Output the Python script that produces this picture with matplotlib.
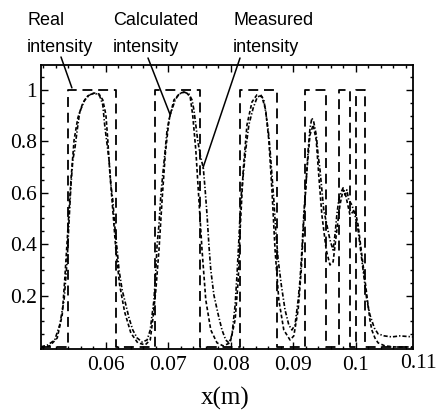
import numpy as np
import matplotlib
matplotlib.use("Agg")
import matplotlib.pyplot as plt
from matplotlib.ticker import MultipleLocator, FixedLocator

# ---- data ----
real_starts = [0.0539, 0.0679, 0.0815, 0.0919, 0.0973, 0.1001]
real_ends   = [0.0616, 0.0751, 0.0874, 0.0953, 0.0991, 0.1015]

calc_x = [0.0496, 0.0510, 0.0522, 0.0530, 0.0534, 0.0539, 0.0544, 0.0549, 0.0555, 0.0563,
          0.0571, 0.0581, 0.0589, 0.0595, 0.0600, 0.0603, 0.0606, 0.0611, 0.0616, 0.0622,
          0.0630, 0.0640, 0.0651, 0.0663, 0.0671, 0.0675, 0.0680, 0.0685, 0.0690, 0.0695,
          0.0701, 0.0709, 0.0719, 0.0728, 0.0735, 0.0739, 0.0744, 0.0749, 0.0754, 0.0760,
          0.0768, 0.0778, 0.0788, 0.0799, 0.0807, 0.0812, 0.0815, 0.0820, 0.0826, 0.0834,
          0.0842, 0.0850, 0.0856, 0.0861, 0.0866, 0.0871, 0.0877, 0.0885, 0.0895, 0.0901,
          0.0908, 0.0913, 0.0917, 0.0922, 0.0927, 0.0932, 0.0937, 0.0941, 0.0946, 0.0953,
          0.0959, 0.0964, 0.0970, 0.0975, 0.0980, 0.0983, 0.0991, 0.0999, 0.1004, 0.1010,
          0.1017, 0.1023, 0.1026, 0.1031, 0.1036, 0.1047, 0.1063, 0.1092]
calc_y = [0.000, 0.004, 0.035, 0.125, 0.261, 0.455, 0.650, 0.805, 0.891, 0.949,
          0.977, 0.988, 0.984, 0.961, 0.903, 0.805, 0.689, 0.533, 0.377, 0.241,
          0.136, 0.054, 0.016, 0.008, 0.027, 0.105, 0.222, 0.377, 0.572, 0.747,
          0.883, 0.961, 0.988, 0.992, 0.973, 0.903, 0.767, 0.572, 0.377, 0.183,
          0.066, 0.016, 0.004, 0.016, 0.105, 0.261, 0.455, 0.689, 0.864, 0.953,
          0.981, 0.973, 0.922, 0.805, 0.611, 0.377, 0.183, 0.066, 0.027, 0.043,
          0.144, 0.300, 0.494, 0.689, 0.825, 0.864, 0.805, 0.669, 0.514, 0.377,
          0.319, 0.331, 0.455, 0.553, 0.611, 0.603, 0.514, 0.533, 0.475, 0.358,
          0.222, 0.105, 0.066, 0.035, 0.016, 0.004, 0.000, 0.000]

meas_x = [0.0496, 0.0507, 0.0518, 0.0526, 0.0533, 0.0538, 0.0541, 0.0544, 0.0547, 0.0550,
          0.0554, 0.0558, 0.0566, 0.0574, 0.0582, 0.0590, 0.0595, 0.0598, 0.0602, 0.0605,
          0.0608, 0.0611, 0.0614, 0.0618, 0.0621, 0.0626, 0.0632, 0.0637, 0.0643, 0.0650,
          0.0658, 0.0666, 0.0671, 0.0674, 0.0677, 0.0680, 0.0682, 0.0685, 0.0688, 0.0691,
          0.0695, 0.0698, 0.0703, 0.0711, 0.0717, 0.0725, 0.0733, 0.0738, 0.0741, 0.0744,
          0.0747, 0.0751, 0.0756, 0.0759, 0.0762, 0.0765, 0.0768, 0.0773, 0.0780, 0.0786,
          0.0792, 0.0797, 0.0802, 0.0807, 0.0810, 0.0813, 0.0816, 0.0820, 0.0824, 0.0829,
          0.0836, 0.0842, 0.0848, 0.0853, 0.0856, 0.0860, 0.0863, 0.0866, 0.0869, 0.0872,
          0.0876, 0.0881, 0.0887, 0.0893, 0.0898, 0.0903, 0.0908, 0.0911, 0.0914, 0.0917,
          0.0921, 0.0924, 0.0927, 0.0930, 0.0933, 0.0937, 0.0940, 0.0943, 0.0946, 0.0949,
          0.0954, 0.0959, 0.0964, 0.0967, 0.0970, 0.0973, 0.0977, 0.0980, 0.0983, 0.0986,
          0.0989, 0.0994, 0.0999, 0.1004, 0.1009, 0.1014, 0.1018, 0.1023, 0.1030, 0.1036,
          0.1046, 0.1058, 0.1071, 0.1092]
meas_y = [0.000, 0.008, 0.027, 0.086, 0.183, 0.339, 0.494, 0.630, 0.728, 0.767,
          0.844, 0.914, 0.961, 0.981, 0.988, 0.977, 0.942, 0.864, 0.786, 0.728,
          0.630, 0.572, 0.475, 0.377, 0.300, 0.222, 0.163, 0.113, 0.066, 0.035,
          0.019, 0.027, 0.066, 0.125, 0.183, 0.300, 0.397, 0.475, 0.591, 0.669,
          0.767, 0.844, 0.903, 0.961, 0.984, 0.992, 0.984, 0.961, 0.922, 0.864,
          0.805, 0.747, 0.697, 0.611, 0.514, 0.397, 0.300, 0.202, 0.125, 0.066,
          0.027, 0.016, 0.047, 0.163, 0.280, 0.416, 0.572, 0.669, 0.767, 0.864,
          0.930, 0.969, 0.981, 0.961, 0.914, 0.844, 0.767, 0.669, 0.572, 0.455,
          0.339, 0.241, 0.144, 0.086, 0.066, 0.086, 0.183, 0.261, 0.377, 0.514,
          0.650, 0.767, 0.852, 0.891, 0.875, 0.825, 0.747, 0.689, 0.611, 0.533,
          0.475, 0.416, 0.377, 0.436, 0.514, 0.572, 0.603, 0.619, 0.591, 0.611,
          0.572, 0.553, 0.514, 0.455, 0.358, 0.261, 0.183, 0.125, 0.074, 0.051,
          0.043, 0.039, 0.043, 0.039]

x_ticks = [0.06, 0.07, 0.08, 0.09, 0.10]
x_ticklabels = ["0.06", "0.07", "0.08", "0.09", "0.1"]
extra_x_tick = 0.11
extra_x_label = "0.11"
y_ticks = [0.2, 0.4, 0.6, 0.8, 1.0]
y_ticklabels = ["0.2", "0.4", "0.6", "0.8", "1"]

# ---- build the real step profile ----
real_x = [0.0496]
real_y = [0.0]
for s, e in zip(real_starts, real_ends):
    real_x += [s, s, e, e]
    real_y += [0.0, 1.0, 1.0, 0.0]
real_x.append(0.1092)
real_y.append(0.0)

serif = "Liberation Serif"
sans = "Liberation Sans"

fig = plt.figure(figsize=(4.4, 4.18), dpi=100)
ax = fig.add_axes([41/440, 1-349/418, (413-41)/440, (349-65)/418])

ax.plot(real_x, real_y, color="black", lw=1.3, dashes=(5.5, 3.2))
ax.plot(calc_x, calc_y, color="black", lw=1.2, dashes=(2.2, 1.4))
ax.plot(meas_x, meas_y, color="black", lw=1.2, dashes=(2.5, 1.2, 0.8, 1.2))

ax.set_xlim(0.0496, 0.1092)
ax.set_ylim(-0.008, 1.097)

ax.xaxis.set_major_locator(FixedLocator(x_ticks))
ax.set_xticklabels(x_ticklabels)
ax.xaxis.set_minor_locator(MultipleLocator(0.002))
ax.yaxis.set_major_locator(FixedLocator(y_ticks))
ax.set_yticklabels(y_ticklabels)
ax.yaxis.set_minor_locator(MultipleLocator(0.05))

ax.tick_params(which="both", direction="in", top=True, right=True, width=1.0, color="black")
ax.tick_params(which="major", length=5)
ax.tick_params(which="minor", length=2.5)
ax.tick_params(axis="x", which="major", pad=5, labelsize=15.5)
ax.tick_params(axis="y", which="major", pad=3, labelsize=15.5)
for lab in ax.get_xticklabels() + ax.get_yticklabels():
    lab.set_family(serif)

for sp in ax.spines.values():
    sp.set_linewidth(1.3)
    sp.set_color("black")

ax.text(extra_x_tick, -0.0175, extra_x_label, transform=ax.get_xaxis_transform(),
        ha="center", va="top", fontsize=15.5, family=serif, clip_on=False)

fig.text(225/440, 1-398/418, "x(m)", ha="center", va="center", fontsize=18, family=serif)

# annotations
txt_kw = dict(ha="left", fontsize=13, family=sans)
for x0, w1 in [(27, "Real"), (113, "Calculated"), (233, "Measured")]:
    fig.text(x0/440, 1-25/418, w1, va="baseline", **txt_kw)
    fig.text(x0/440, 1-52/418, "intensity", va="baseline", **txt_kw)

line_kw = dict(arrowstyle="-", color="black", lw=1.1, shrinkA=0, shrinkB=0)
ax.annotate("", xy=(0.05455, 1.008), xycoords="data",
            xytext=(61, 418-57), textcoords="figure pixels", arrowprops=line_kw,
            annotation_clip=False)
ax.annotate("", xy=(0.0703, 0.903), xycoords="data",
            xytext=(148, 418-58), textcoords="figure pixels", arrowprops=line_kw,
            annotation_clip=False)
ax.annotate("", xy=(0.07555, 0.697), xycoords="data",
            xytext=(240, 418-58), textcoords="figure pixels", arrowprops=line_kw,
            annotation_clip=False)

fig.savefig("out.png", dpi=100)
